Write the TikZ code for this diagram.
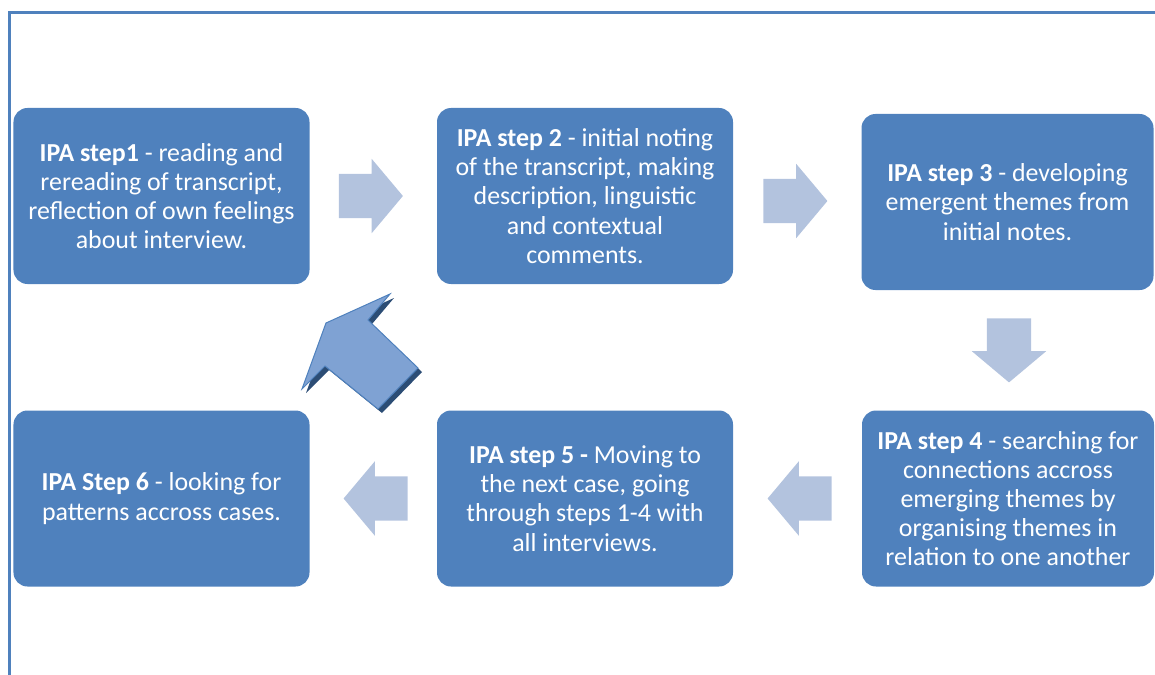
\documentclass[tikz,border=0pt]{standalone}
\usepackage{fontspec}
\setmainfont{Carlito}
\usetikzlibrary{shapes.arrows}
\definecolor{boxblue}{HTML}{4F81BD}
\definecolor{arrowblue}{HTML}{B3C3DE}
\definecolor{shadowblue}{HTML}{2C4D75}
\definecolor{lightblue}{HTML}{7FA2D3}
\begin{document}
\begin{tikzpicture}[x=1bp, y=-1bp,
  stepbox/.style={fill=boxblue, rounded corners=14bp, minimum width=296bp, minimum height=176bp,
    text=white, align=center, inner sep=0pt, font=\fontsize{26}{29.3}\selectfont},
  blockarrow/.style={single arrow, fill=arrowblue, anchor=tail, inner xsep=0pt, inner ysep=22bp,
    minimum height=64bp, single arrow head extend=15bp, single arrow tip angle=100}]

\useasboundingbox (0,0) rectangle (1155,675);
\draw[boxblue, line width=3bp] (9.5,675) -- (9.5,12.5) -- (1155,12.5);

\node[stepbox] (s1) at (161.5,196) {\textbf{IPA step1} - reading and\\rereading of transcript,\\reflection of own feelings\\about interview.};
\node[stepbox] (s2) at (585,196) {\textbf{IPA step 2} - initial noting\\of the transcript, making\\description, linguistic\\and contextual\\comments.};
\node[stepbox, minimum width=292bp] (s3) at (1007.5,202) {\textbf{IPA step 3} - developing\\emergent themes from\\initial notes.};
\node[stepbox, minimum width=292bp] (s4) at (1008,498.5) {\textbf{IPA step 4} - searching for\\connections accross\\emerging themes by\\organising themes in\\relation to one another};
\node[stepbox] (s5) at (585,498.5) {\textbf{IPA step 5 -} Moving to\\the next case, going\\through steps 1-4 with\\all interviews.};
\node[stepbox] (s6) at (161.5,498.5) {\textbf{IPA Step 6} - looking for\\patterns accross cases.};

\node[blockarrow] (a12) at ([xshift=29bp]s1.east) {};
\node[blockarrow] (a23) at ([xshift=30bp, yshift=-5bp]s2.east) {};
\node[blockarrow, rotate=-90] (a34) at ([xshift=1.5bp, yshift=-28bp]s3.south) {};
\node[blockarrow, rotate=180] (a45) at ([xshift=-30bp]s4.west) {};
\node[blockarrow, rotate=180] (a56) at ([xshift=-29bp]s5.west) {};

\fill[shadowblue, shift={(4,4)}] (326,323) -- (390,294) -- (368,320) -- (418,368) -- (378,409) -- (325,366) -- (302,389) -- cycle;
\shade[top color=lightblue, middle color=boxblue, bottom color=lightblue, shading angle=-45, draw=boxblue, line width=1bp]
  (326,323) -- (390,294) -- (368,320) -- (418,368) -- (378,409) -- (325,366) -- (302,389) -- cycle;

\end{tikzpicture}
\end{document}
